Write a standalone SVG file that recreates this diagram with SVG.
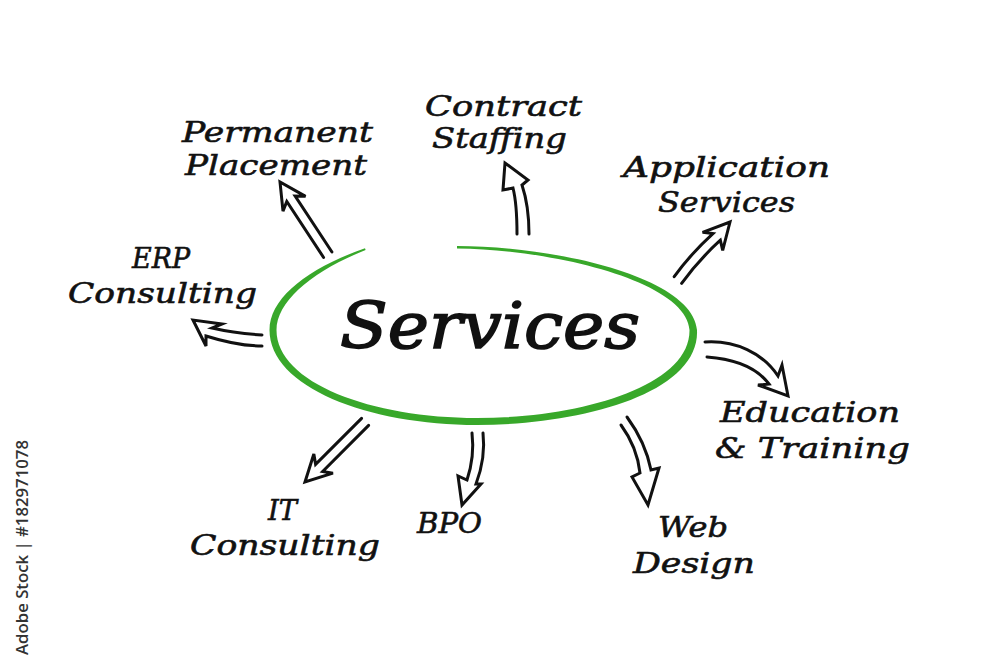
<svg xmlns="http://www.w3.org/2000/svg" width="1000" height="671" viewBox="0 0 1000 671">
<style>
.lbl{font-family:"DejaVu Serif","Liberation Serif",serif;font-style:italic;font-size:28px;fill:#111;stroke:#111;stroke-width:0.6}
.title{font-family:"DejaVu Serif","Liberation Serif",serif;font-style:italic;font-size:64px;fill:#111;stroke:#111;stroke-width:1.6}
.arr{fill:#fff;stroke:#111;stroke-width:3;stroke-linejoin:miter;stroke-linecap:round}
.wm{font-family:"Open Sans","Noto Sans",sans-serif;font-size:16px;font-weight:600;fill:#333}
</style>
<rect width="1000" height="671" fill="#fff"/>

<g id="connectors">
  <path class="arr" transform="translate(280,182) rotate(-123.3)" d="M-87,-5 L-20,-5 L-26,-13.5 L0,0 L-26,13.5 L-20,5 L-87,5"/>
  <path class="arr" d="M517,234 C517,215 516,200 513,188 L503,190 L505,163 L528,180 L522,185 C527,200 529,215 529,234"/>
  <path class="arr" transform="translate(730,222) rotate(-48.1)" d="M-78,-5 Q-50,-8 -20,-5 L-26,-13.5 L0,0 L-26,13.5 L-20,5 Q-50,2 -78,5"/>
  <path class="arr" d="M262,335 C245,334 225,331 212,328 L222,324 L193,320 L206,346 L206,336 C225,342 245,346 262,346"/>
  <path class="arr" d="M705,342 C735,340 763,353 778,376 L782,365 L788,396 L758,385 L769,384 C757,368 735,359 707,357"/>
  <path class="arr" transform="translate(305,482) rotate(135)" d="M-85,-5 L-20,-5 L-26,-13.5 L0,0 L-26,13.5 L-20,5 L-85,5"/>
  <path class="arr" d="M472,433 C474,450 472,465 467,480 L458,476 L462,505 L481,484 L476,484 C482,468 485,450 483,433"/>
  <path class="arr" d="M621,425 C632,440 638,455 640,473 L632,477 L648,505 L659,468 L651,470 C647,450 638,432 627,417"/>
</g>

<g id="services">
  <path fill="#38a82a" d="M457,246 C560,246.5 693,278 697,330 C700,394 580,425 477,425 C368,425 269.5,387 269.5,330 C269.5,298 308,268 365,248.3 L365.6,250 C313,271 276.5,301 276.5,330 C276.5,383 372,418 477,418 C578,418 690,387 689.5,330 C687,283 560,250 457,248.5 Z"/>
  <text class="title" x="340" y="348" textLength="300" lengthAdjust="spacingAndGlyphs">Services</text>
</g>

<g id="permanent-placement">
  <text class="lbl" x="182" y="142" textLength="191" lengthAdjust="spacingAndGlyphs">Permanent</text>
  <text class="lbl" x="185" y="175" textLength="182" lengthAdjust="spacingAndGlyphs">Placement</text>
</g>
<g id="contract-staffing">
  <text class="lbl" x="425" y="116" textLength="157" lengthAdjust="spacingAndGlyphs">Contract</text>
  <text class="lbl" x="432" y="148" textLength="135" lengthAdjust="spacingAndGlyphs">Staffing</text>
</g>
<g id="application-services">
  <text class="lbl" x="623" y="177" textLength="207" lengthAdjust="spacingAndGlyphs">Application</text>
  <text class="lbl" x="658" y="212" textLength="137" lengthAdjust="spacingAndGlyphs">Services</text>
</g>
<g id="erp-consulting">
  <text class="lbl" x="132" y="268" textLength="58" lengthAdjust="spacingAndGlyphs">ERP</text>
  <text class="lbl" x="68" y="303" textLength="189" lengthAdjust="spacingAndGlyphs">Consulting</text>
</g>
<g id="education-training">
  <text class="lbl" x="720" y="422" textLength="180" lengthAdjust="spacingAndGlyphs">Education</text>
  <text class="lbl" x="715" y="458" textLength="195" lengthAdjust="spacingAndGlyphs">&amp; Training</text>
</g>
<g id="it-consulting">
  <text class="lbl" x="268" y="520" textLength="29" lengthAdjust="spacingAndGlyphs">IT</text>
  <text class="lbl" x="190" y="555" textLength="190" lengthAdjust="spacingAndGlyphs">Consulting</text>
</g>
<g id="bpo">
  <text class="lbl" x="417" y="533" textLength="65" lengthAdjust="spacingAndGlyphs">BPO</text>
</g>
<g id="web-design">
  <text class="lbl" x="658" y="537" textLength="70" lengthAdjust="spacingAndGlyphs">Web</text>
  <text class="lbl" x="633" y="573" textLength="122" lengthAdjust="spacingAndGlyphs">Design</text>
</g>

<text class="wm" transform="translate(28,655) rotate(-90)" x="0" y="0" textLength="215" lengthAdjust="spacingAndGlyphs">Adobe Stock | #182971078</text>
</svg>
